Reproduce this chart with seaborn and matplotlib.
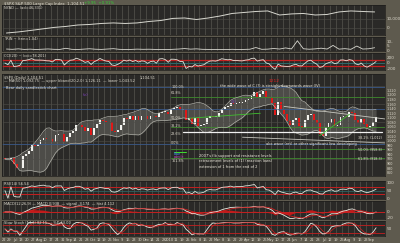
import numpy as np
import pandas as pd
import matplotlib
matplotlib.use('Agg')
import matplotlib.pyplot as plt
import seaborn as sns

sns.set_theme(style='dark')
plt.rcParams['font.family'] = ['DejaVu Sans']

# ---------------- data (semi-weekly closes, Jun 2009 - Sep 2010) ----------------
closes = [920, 918, 923, 896, 880, 879, 932, 940, 954, 979, 975, 987, 1002, 1010,
          1005, 1005, 996, 1026, 1028, 1029, 995, 1016, 1033, 1042, 1068, 1068,
          1060, 1044, 1057, 1025, 1057, 1071, 1092, 1087, 1081, 1080, 1043, 1036,
          1046, 1069, 1098, 1093, 1108, 1091, 1110, 1091, 1109, 1106, 1095, 1106,
          1110, 1102, 1121, 1126, 1127, 1115, 1137, 1145, 1146, 1136, 1138, 1091,
          1097, 1074, 1098, 1066, 1068, 1075, 1099, 1109, 1105, 1105, 1119, 1139,
          1146, 1150, 1166, 1160, 1167, 1167, 1169, 1179, 1182, 1194, 1211, 1192,
          1205, 1217, 1191, 1187, 1166, 1111, 1171, 1136, 1115, 1087, 1068, 1089,
          1099, 1064, 1056, 1092, 1114, 1117, 1092, 1076, 1031, 1022, 1060, 1078,
          1095, 1065, 1070, 1102, 1106, 1102, 1127, 1122, 1089, 1079, 1095, 1071,
          1055, 1065, 1080, 1104]
first_open = 925

week_labels = ['22', '29', 'Jul', '13', '20', '27', 'Aug', '10', '17', '24', '31',
               'Sep', '14', '21', '28', 'Oct', '12', '19', '26', 'Nov', '9', '16',
               '23', '30', 'Dec', '14', '21', '28', '2010', '11', '19', '25', 'Feb',
               '8', '16', '22', 'Mar', '8', '15', '22', '29', 'Apr', '12', '19', '26',
               'May', '10', '17', '24', 'Jun', '7', '14', '21', '28', 'Jul', '12',
               '19', '26', 'Aug', '9', '16', '23', 'Sep']

# top panel breadth line (bi-weekly)
breadth = [-5600, -4400, -2800, -1100, 600, 1700, 3300, 3900, 5000, 5600, 5000,
           5600, 7200, 8300, 10600, 11100, 9400, 11100, 13300, 16100, 17200, 18300,
           18900, 14400, 15600, 16100, 14400, 15000, 17800, 18900, 18300, 17800]

# second panel (weekly) spikes
trin = [1.6, 1.3, 1.8, 1.2, 1.5, 1.1, 1.4, 1.7, 1.3, 1.2, 2.4, 1.3, 1.1, 1.5, 1.9,
        1.4, 1.2, 1.6, 2.0, 1.3, 1.1, 1.2, 1.5, 1.3, 1.4, 1.2, 1.1, 1.0, 1.3, 1.6,
        2.1, 1.5, 1.8, 1.3, 1.2, 1.1, 1.2, 1.0, 1.3, 1.1, 1.2, 1.4, 3.2, 1.3, 1.5,
        2.2, 1.6, 2.8, 1.7, 10.5, 1.9, 1.4, 1.8, 2.5, 1.6, 5.5, 1.5, 2.0, 1.3, 4.8,
        1.6, 1.9, 3.0]

price_ticks = [1220, 1200, 1180, 1160, 1140, 1120, 1100, 1080, 1060, 1040, 1020,
               1000, 980, 960, 940, 920, 900, 880, 860]

# ---------------- derived indicators ----------------
s = pd.Series(closes, dtype=float)
n = len(s)
idx = np.arange(n)
opens = [first_open] + closes[:-1]

ma = s.rolling(10, min_periods=1).mean()
sd = s.rolling(10, min_periods=2).std().bfill()
sd = sd.rolling(3, min_periods=1).mean()
upper, lower = ma + 2 * sd, ma - 2 * sd

delta = s.diff().fillna(0)
gain = delta.clip(lower=0).ewm(alpha=1 / 7, adjust=False).mean()
loss = (-delta.clip(upper=0)).ewm(alpha=1 / 7, adjust=False).mean()
rsi = 100 - 100 / (1 + gain / loss.replace(0, np.nan))
rsi = rsi.fillna(50)

ema_f = s.ewm(span=6, adjust=False).mean()
ema_s = s.ewm(span=13, adjust=False).mean()
macd = ema_f - ema_s
signal = macd.ewm(span=5, adjust=False).mean()
hist = macd - signal

tp_ma = s.rolling(10, min_periods=1).mean()
mad = s.rolling(10, min_periods=1).apply(lambda v: np.mean(np.abs(v - v.mean())), raw=True)
cci = ((s - tp_ma) / (0.015 * mad.replace(0, np.nan))).fillna(0).clip(-240, 300)

hh = s.rolling(7, min_periods=1).max()
ll = s.rolling(7, min_periods=1).min()
fastk = (100 * (s - ll) / (hh - ll).replace(0, np.nan)).fillna(50)
slowk = fastk.rolling(3, min_periods=1).mean()
slowd = slowk.rolling(3, min_periods=1).mean()

# ---------------- layout ----------------
BG = '#5e5a4e'
PANEL = '#2a2927'
GRID = '#4e4d48'
TXT = '#dcd8cc'
W, H = 400, 243
fig = plt.figure(figsize=(4, 2.43), dpi=100, facecolor=BG)
tick_pos = [2 * w - 0.5 for w in range(len(week_labels))]


def add_panel(top, bottom, left=2, right=385):
    ax = fig.add_axes([left / W, 1 - bottom / H, (right - left) / W, (bottom - top) / H])
    ax.set_facecolor(PANEL)
    for sp in ax.spines.values():
        sp.set_color('#1e1d1b')
        sp.set_linewidth(0.5)
    ax.yaxis.tick_right()
    ax.tick_params(axis='both', length=0, labelsize=3, colors=TXT, pad=1.2)
    ax.set_xticks(tick_pos)
    ax.set_xticklabels([])
    ax.grid(True, axis='x', color=GRID, lw=0.6)
    ax.grid(False, axis='y')
    ax.set_xlim(-1, 128)
    return ax


def header(ax, txt, y=0.97, color=TXT, x=0.005):
    ax.text(x, y, txt, transform=ax.transAxes, fontsize=2.6, color=color,
            va='top', ha='left')


# title
fig.text(4 / W, 1 - 3.5 / H, '$SPX S&P 500 Large Cap Index  1,104.51', fontsize=2.8,
         color='#e6e2d6', va='center')
fig.text(84 / W, 1 - 3.5 / H, '+9.95  +0.91%', fontsize=2.8, color='#33d433', va='center')

# panel 1
ax1 = add_panel(5, 35)
sns.lineplot(x=np.arange(len(breadth)) * 4 + 0.5, y=breadth, ax=ax1, color='#d8d8d0', lw=0.7)
ax1.set_ylim(-7800, 25500)
ax1.set_yticks([10000, 0])
ax1.set_yticklabels(['10,000', '0'])
ax1.grid(True, axis='y', color=GRID, lw=0.4)
header(ax1, 'NYAD — (ad=46,331)')

# panel 2
ax2 = add_panel(37, 51)
sns.lineplot(x=np.arange(len(trin)) * 2 + 0.5, y=trin, ax=ax2, color='#d8d8d0', lw=0.6)
ax2.set_ylim(-0.5, 14.5)
ax2.set_yticks([10, 5, 0])
ax2.set_yticklabels(['10-', '5', '0'])
header(ax2, 'TRIN ~ (trin=1.04)')

# panel 3
ax3 = add_panel(53, 70)
ax3.axhline(100, color='#c42020', lw=0.9)
ax3.axhline(-100, color='#c42020', lw=0.9)
ax3.axhline(0, color='#2f6a6a', lw=0.7)
sns.lineplot(x=idx, y=cci, ax=ax3, color='#e0e0d8', lw=0.6)
ax3.set_ylim(-260, 370)
ax3.set_yticks([200, 0, -200])
ax3.set_yticklabels(['200', '0', '-200'])
header(ax3, 'CCI(20) ~ (cci=78.201)')

# main price panel
ax = add_panel(74, 176)
ax.set_ylim(845, 1292)
ax.set_yticks(price_ticks)
ax.set_yticklabels([f'{v:,}' for v in price_ticks])
ax.tick_params(axis='y', labelsize=2.4, pad=1.2)
for lvl in [1240, 1160, 1080, 1000, 920]:
    ax.axhline(lvl, color=GRID, lw=0.4)
for lvl in [1235, 1140, 985]:
    ax.axhline(lvl, color='#3a5a8a', lw=0.6)
for lvl in [1190, 1060, 962, 925]:
    ax.axhline(lvl, xmin=0.44, xmax=1, color='#3f8a2e', lw=0.6)
ax.fill_between(idx, lower, upper, color='#a8a8a0', alpha=0.28, lw=0)
sns.lineplot(x=idx, y=upper, ax=ax, color='#b8b8b0', lw=0.45)
sns.lineplot(x=idx, y=lower, ax=ax, color='#b8b8b0', lw=0.45)
cols = ['#f2f2ee' if c >= o else '#e01818' for o, c in zip(opens, closes)]
bottoms = [min(o, c) for o, c in zip(opens, closes)]
heights = [max(abs(c - o), 2) for o, c in zip(opens, closes)]
ax.bar(idx, heights, bottom=bottoms, width=0.6, color=cols, lw=0)
# guide lines
ax.plot([60, 127], [1040, 1040], color='#f0f0f0', lw=0.9)
ax.plot([94, 128], [1150, 1095], color='#c8c8c0', lw=0.6)
ax.plot([80, 128], [1015, 990], color='#c8c8c0', lw=0.6)
ax.plot([106, 116], [1022, 1115], color='#3fbf2e', lw=0.6)
ax.plot([62, 86], [1098, 1120], color='#3fbf2e', lw=0.6)
header(ax, '$SPX (Daily) 1,104.51', y=0.985)
header(ax, '— MA(50) 1,092.75  — upper bband(20,2.0) 1,126.11  — lower 1,043.52', y=0.95)
ax.text(0.36, 0.985, '1,104.51', transform=ax.transAxes, fontsize=2.6, color=TXT, va='top')
ax.text(0.01, 0.88, 'Bear daily candlestick chart', transform=ax.transAxes, fontsize=2.6,
        color='#f0ece0', va='top')
ax.text(0.57, 0.90, 'the wide wave of C (?) is straight downwards wave (IV)',
        transform=ax.transAxes, fontsize=2.6, color='#f0ece0', va='top')
ax.text(90.5, 1262, '1212', fontsize=3.2, color='#e02020', ha='center', va='center')
ax.text(0.515, 0.22, "2007's fib support and resistance levels\nretracement levels of (1) (reaction lows)\nextension of 1 from the end of 2",
        transform=ax.transAxes, fontsize=2.6, color='#f0ece0', va='top', linespacing=1.5)
ax.text(0.69, 0.33, 'abc wave (ret) or other significant low developing',
        transform=ax.transAxes, fontsize=2.6, color='#f0ece0', va='top')
ax.plot([57, 61], [952, 952], color='#3fdf2e', lw=0.7)
ax.text(57, 940, 'blue', fontsize=2.4, color='#3a8aff', va='center')
ax.text(57, 928, 'purple', fontsize=2.4, color='#c040c0', va='center')
for yv, lab in [(1235, '100.0%'), (1210, '61.8%'), (1100, '50.0%'), (1062, '38.2%'),
                (1030, '23.6%'), (990, '0.0%'), (910, '161.8%')]:
    ax.text(56, yv, lab, fontsize=2.4, color='#e0dccf', va='center')
for yv, lab in [(1013, '38.2% (1,012)'), (958, '50.0% (958.8)'), (920, '61.8% (918.3)')]:
    ax.text(119, yv, lab, fontsize=2.4, color='#e0dccf', va='center')
ax.text(26, 1200, '(v)', fontsize=3, color='#8040c0', va='center')
ax.text(76, 1170, '(3)', fontsize=3, color='#8040c0', va='center')

# RSI
ax4 = add_panel(181, 199)
ax4.axhline(70, color='#c42020', lw=0.7)
ax4.axhline(30, color='#c42020', lw=0.7)
ax4.axhline(50, color='#2f6a6a', lw=0.5)
sns.lineplot(x=idx, y=rsi, ax=ax4, color='#e0e0d8', lw=0.6)
ax4.set_ylim(-5, 112)
ax4.set_yticks([100, 50, 0])
ax4.set_yticklabels(['100', '50', '0'])
header(ax4, 'RSI(14) 56.54')

# MACD
ax5 = add_panel(201, 219)
ax5.fill_between(idx, 0, hist, color='#c41818', lw=0)
ax5.axhline(0, color='#c42020', lw=0.7)
sns.lineplot(x=idx, y=macd, ax=ax5, color='#e8e8e0', lw=0.6)
sns.lineplot(x=idx, y=signal, ax=ax5, color='#d02020', lw=0.6)
ax5.set_ylim(-27, 40)
ax5.set_yticks([0, -20])
ax5.set_yticklabels(['0', '-20'])
header(ax5, 'MACD(12,26,9) — MACD 0.938  — signal -3.174  — hist 4.112')

# Slow stochastic
ax6 = add_panel(221, 236)
ax6.axhline(80, color='#c42020', lw=0.6)
ax6.axhline(20, color='#c42020', lw=0.6)
sns.lineplot(x=idx, y=slowk, ax=ax6, color='#e8e8e0', lw=0.6)
sns.lineplot(x=idx, y=slowd, ax=ax6, color='#d02020', lw=0.5)
ax6.set_ylim(-5, 112)
ax6.set_yticks([50])
ax6.set_yticklabels(['50'])
header(ax6, 'Slow Stoch (14,3) 82.15 — %D 63.00')
ax6.set_xticklabels(week_labels)
ax6.tick_params(axis='x', labelsize=2.6, pad=1.5, colors=TXT)

for a in [ax1, ax2, ax3, ax, ax4, ax5, ax6]:
    a.set_xlabel('')
    a.set_ylabel('')

fig.savefig('out.png', dpi=100, facecolor=BG)
